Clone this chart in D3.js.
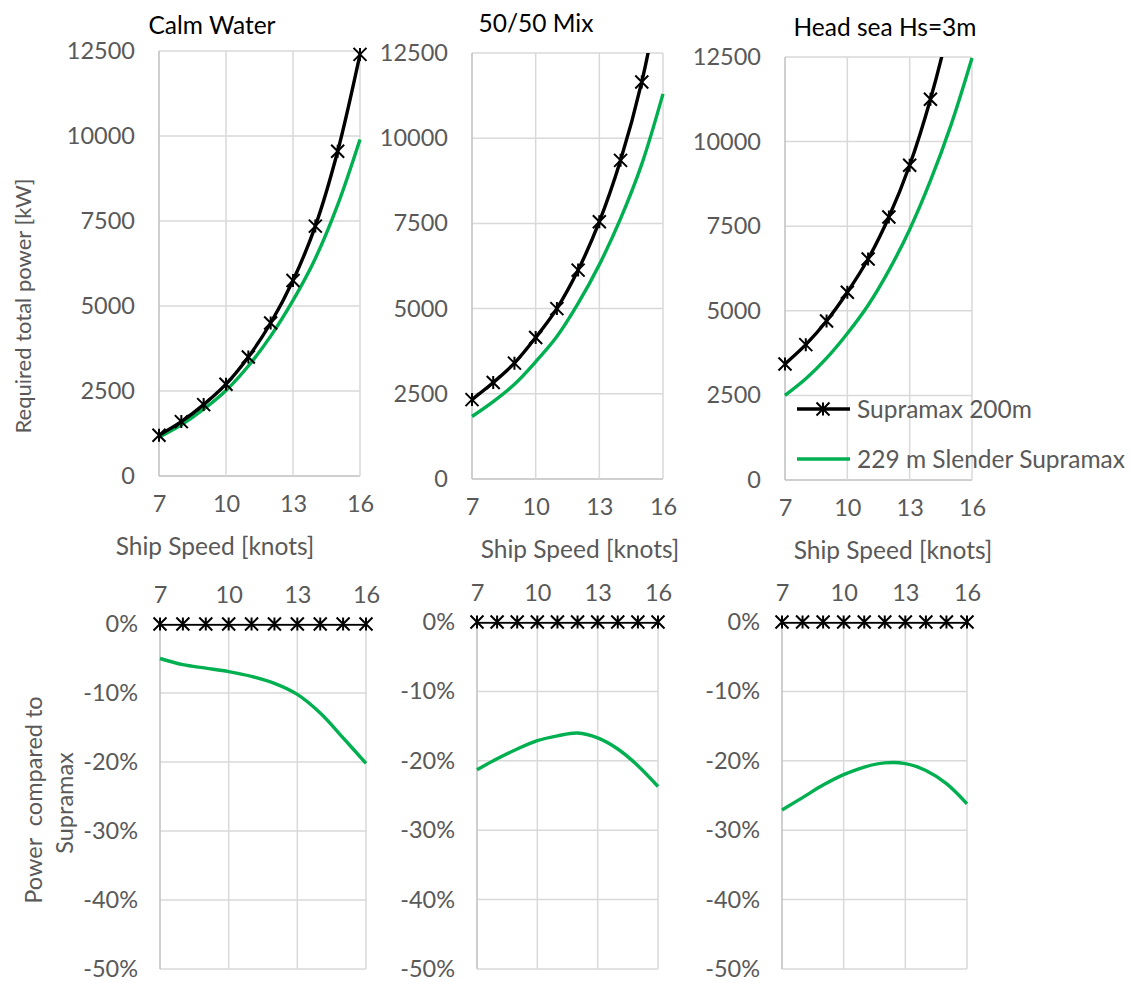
<!DOCTYPE html>
<html>
<head>
<meta charset="utf-8">
<script src="https://cdn.jsdelivr.net/npm/d3@7"></script>
<style>
  body { margin: 0; background: #fff; }
  text { font-family: Lato, "Open Sans", sans-serif; }
</style>
</head>
<body>
<svg id="chart" width="1131" height="982"></svg>
<script>
// ship speeds (knots)
const speeds = [7, 8, 9, 10, 11, 12, 13, 14, 15, 16];
const speedTicks = [7, 10, 13, 16];
const powerTicks = [0, 2500, 5000, 7500, 10000, 12500];
const pctTicks = [0, -0.1, -0.2, -0.3, -0.4, -0.5];

const seriesNames = ['Supramax 200m', '229 m Slender Supramax'];
const conditions = ['Calm Water', '50/50 Mix', 'Head sea Hs=3m'];

// required total power [kW]
const calmSupramax = [1200, 1600, 2100, 2700, 3500, 4500, 5750, 7350, 9550, 12400];
const calmSlender = [1140, 1505, 1965, 2515, 3235, 4115, 5165, 6400, 7975, 9900];
const mixSupramax = [2330, 2830, 3400, 4150, 5000, 6130, 7550, 9350, 11650, 14800];
const mixSlender = [1835, 2270, 2780, 3440, 4180, 5150, 6290, 7640, 9240, 11300];
const headSupramax = [3430, 4000, 4700, 5550, 6530, 7770, 9300, 11250, 13700, 16900];
const headSlender = [2500, 2990, 3600, 4330, 5165, 6195, 7405, 8845, 10510, 12470];

// power compared to Supramax
const calmRelSupramax = [0, 0, 0, 0, 0, 0, 0, 0, 0, 0];
const calmRelSlender = [-0.050, -0.059, -0.064, -0.069, -0.076, -0.086, -0.102, -0.129, -0.165, -0.202];
const mixRelSupramax = [0, 0, 0, 0, 0, 0, 0, 0, 0, 0];
const mixRelSlender = [-0.213, -0.197, -0.183, -0.171, -0.164, -0.160, -0.167, -0.183, -0.207, -0.237];
const headRelSupramax = [0, 0, 0, 0, 0, 0, 0, 0, 0, 0];
const headRelSlender = [-0.271, -0.253, -0.235, -0.220, -0.209, -0.203, -0.204, -0.214, -0.233, -0.262];

const BLACK = '#000000';
const GREEN = '#00b050';
const GRID = '#d9d9d9';
const AXIS = '#bfbfbf';
const LABEL = '#595959';
const TICK_FONT = '23.5px';
const TEXT_FONT = '24.5px';

const svg = d3.select('#chart');

// panel frames (plot area boxes)
const topPanels = [
  { x0: 159, x1: 360, yt: 51, yb: 476, title: conditions[0], tx: 212, ty: 25, sx: 215, a: calmSupramax, b: calmSlender },
  { x0: 472, x1: 663, yt: 53, yb: 479, title: conditions[1], tx: 536, ty: 23, sx: 580, a: mixSupramax, b: mixSlender },
  { x0: 785, x1: 972, yt: 57, yb: 480, title: conditions[2], tx: 885, ty: 27, sx: 893, a: headSupramax, b: headSlender },
];
const bottomPanels = [
  { x0: 160, x1: 366, yt: 624, yb: 969, a: calmRelSupramax, b: calmRelSlender },
  { x0: 477, x1: 658, yt: 622, yb: 969, a: mixRelSupramax, b: mixRelSlender },
  { x0: 782, x1: 967, yt: 622, yb: 969, a: headRelSupramax, b: headRelSlender },
];

function starMarker(g, x, y) {
  const s = 6.5;
  const p = `M${x - s},${y - s}L${x + s},${y + s}M${x - s},${y + s}L${x + s},${y - s}M${x},${y - s}L${x},${y + s}`;
  g.append('path').attr('d', p).attr('stroke', BLACK).attr('stroke-width', 2).attr('fill', 'none');
}

function drawPanel(p, i, opts) {
  const g = svg.append('g');
  const x = d3.scaleLinear().domain([7, 16]).range([p.x0, p.x1]);
  const y = d3.scaleLinear().domain(opts.domain).range([p.yb, p.yt]);

  // gridlines
  g.selectAll('.hgrid').data(opts.yTicks).enter().append('line')
    .attr('x1', p.x0).attr('x2', p.x1)
    .attr('y1', d => y(d)).attr('y2', d => y(d))
    .attr('stroke', d => (opts.top && d === 0) ? AXIS : GRID).attr('stroke-width', 1.5);
  g.selectAll('.vgrid').data(speedTicks).enter().append('line')
    .attr('x1', d => x(d)).attr('x2', d => x(d))
    .attr('y1', p.yt).attr('y2', p.yb)
    .attr('stroke', d => d === 7 ? AXIS : GRID).attr('stroke-width', 1.5);

  // y labels
  const yAxis = g.append('g').attr('transform', `translate(${p.x0},0)`)
    .call(d3.axisLeft(y).tickValues(opts.yTicks).tickSize(0).tickPadding(opts.yPad)
      .tickFormat(opts.yFormat));
  yAxis.select('.domain').remove();
  yAxis.selectAll('text').attr('fill', LABEL).style('font-size', TICK_FONT).style('font-family', 'Lato');

  // x labels
  if (opts.top) {
    const xAxis = g.append('g').attr('transform', `translate(0,${p.yb})`)
      .call(d3.axisBottom(x).tickValues(speedTicks).tickSize(0).tickPadding(19));
    xAxis.select('.domain').remove();
    xAxis.selectAll('text').attr('fill', LABEL).style('font-size', TICK_FONT).style('font-family', 'Lato');
  } else {
    const xAxis = g.append('g').attr('transform', `translate(0,${p.yt})`)
      .call(d3.axisTop(x).tickValues(speedTicks).tickSize(0).tickPadding(21));
    xAxis.select('.domain').remove();
    xAxis.selectAll('text').attr('fill', LABEL).style('font-size', TICK_FONT).style('font-family', 'Lato');
  }

  // clip lines to the plot area
  const clipId = 'clip' + (opts.top ? 't' : 'b') + i;
  g.append('clipPath').attr('id', clipId).append('rect')
    .attr('x', p.x0 - 10).attr('y', p.yt).attr('width', p.x1 - p.x0 + 20).attr('height', p.yb - p.yt + 10);

  const line = d3.line().x((d, j) => x(speeds[j])).y(d => y(d)).curve(d3.curveCatmullRom.alpha(0.5));

  g.append('path').datum(p.b).attr('d', line).attr('fill', 'none')
    .attr('stroke', GREEN).attr('stroke-width', 3.4).attr('clip-path', `url(#${clipId})`);
  g.append('path').datum(p.a).attr('d', line).attr('fill', 'none')
    .attr('stroke', BLACK).attr('stroke-width', 3.4).attr('clip-path', `url(#${clipId})`);

  p.a.forEach((v, j) => {
    if (v <= opts.domain[1]) starMarker(g, x(speeds[j]), y(v));
  });

  if (opts.top) {
    g.append('text').attr('x', p.tx).attr('y', p.ty).attr('dy', '0.35em')
      .attr('text-anchor', 'middle').attr('fill', '#000').style('font-size', TEXT_FONT)
      .text(p.title);
    g.append('text').attr('x', p.sx).attr('y', p.yb + 70).attr('dy', '0.35em')
      .attr('text-anchor', 'middle').attr('fill', LABEL).style('font-size', TEXT_FONT)
      .text('Ship Speed [knots]');
  }
}

topPanels.forEach((p, i) => drawPanel(p, i, {
  top: true, domain: [0, 12500], yTicks: powerTicks, yPad: 24, yFormat: d3.format('d'),
}));
bottomPanels.forEach((p, i) => drawPanel(p, i, {
  top: false, domain: [-0.5, 0], yTicks: pctTicks, yPad: 22, yFormat: d => Math.round(d * 100) + '%',
}));

// axis titles
svg.append('text').attr('transform', 'translate(23,306) rotate(-90)').attr('dy', '0.35em')
  .attr('text-anchor', 'middle').attr('fill', LABEL).style('font-size', '22px')
  .text('Required total power [kW]');
svg.append('text').attr('transform', 'translate(34,800) rotate(-90)').attr('dy', '0.35em')
  .attr('text-anchor', 'middle').attr('fill', LABEL).style('font-size', '23.5px').style('white-space', 'pre')
  .text('Power  compared to');
svg.append('text').attr('transform', 'translate(65,803) rotate(-90)').attr('dy', '0.35em')
  .attr('text-anchor', 'middle').attr('fill', LABEL).style('font-size', '23.5px')
  .text('Supramax');

// legend inside the head sea panel
const legend = svg.append('g');
const legendRows = [
  { name: seriesNames[0], color: BLACK, y: 409, marker: true },
  { name: seriesNames[1], color: GREEN, y: 459, marker: false },
];
legendRows.forEach(r => {
  legend.append('line').attr('x1', 797).attr('x2', 850).attr('y1', r.y).attr('y2', r.y)
    .attr('stroke', r.color).attr('stroke-width', 3.4);
  if (r.marker) starMarker(legend, 823, r.y);
  legend.append('text').attr('x', 857).attr('y', r.y).attr('dy', '0.35em')
    .attr('fill', LABEL).style('font-size', TEXT_FONT).text(r.name);
});
</script>
</body>
</html>
